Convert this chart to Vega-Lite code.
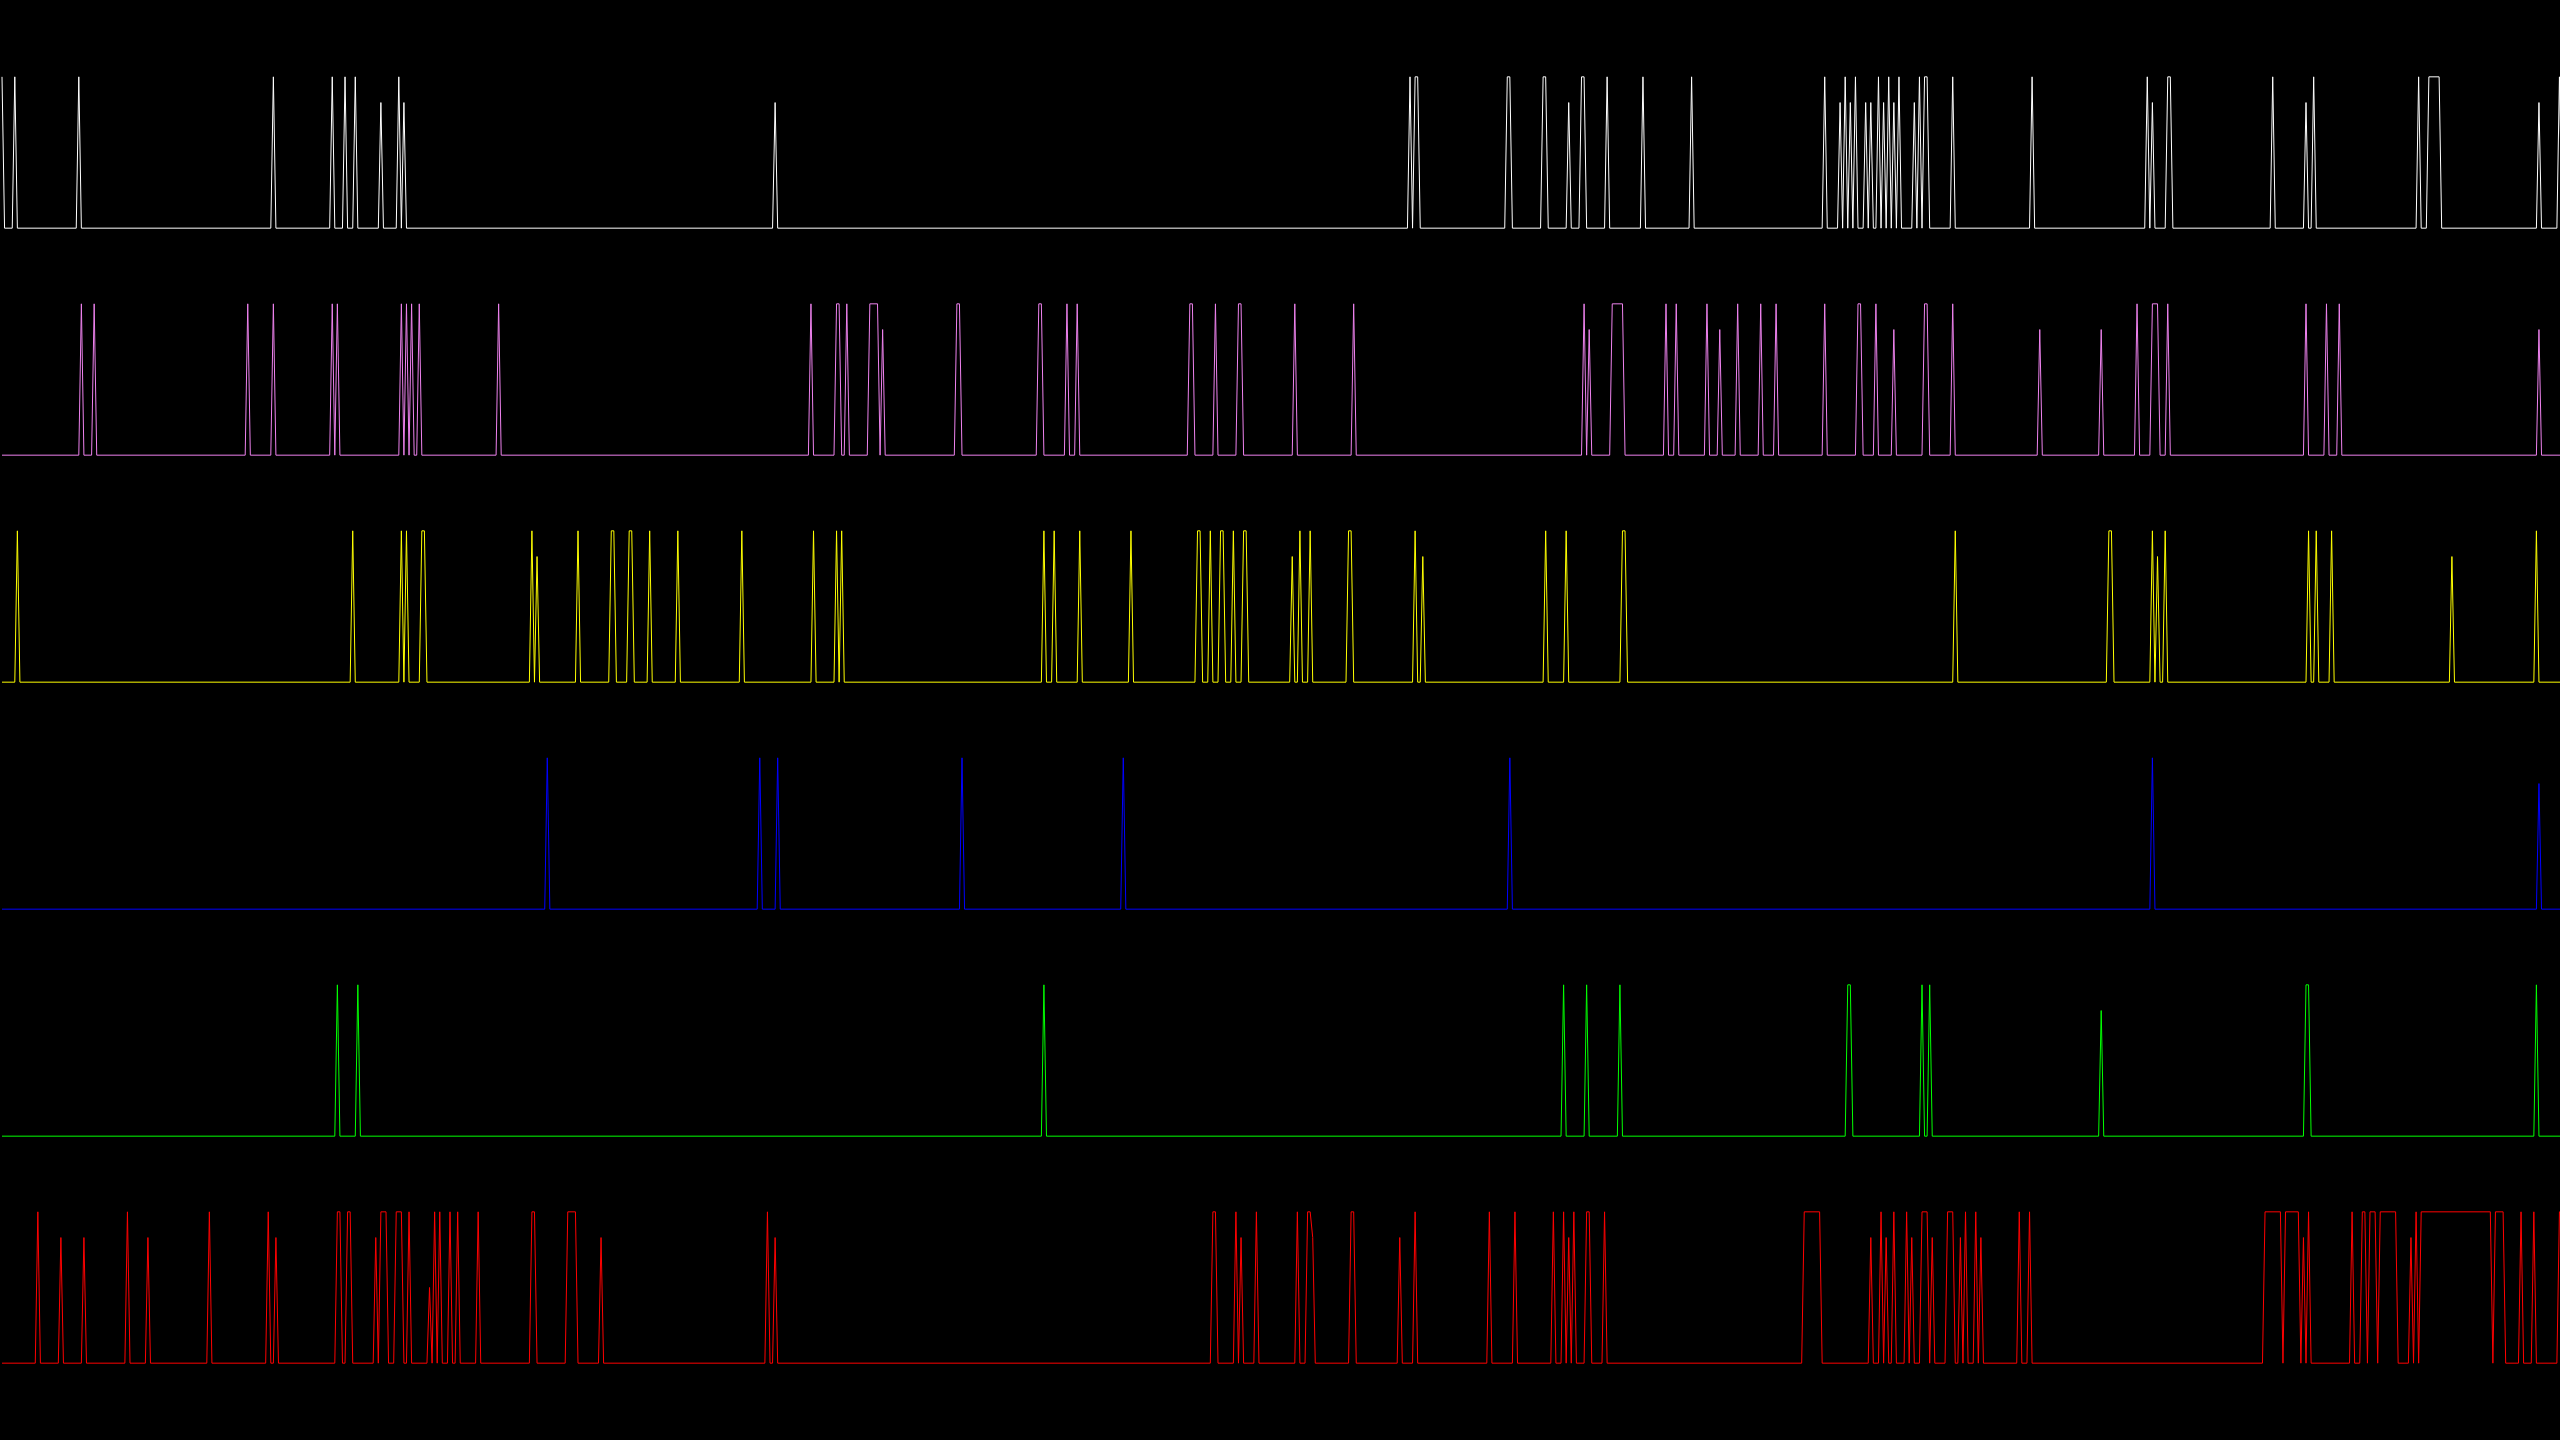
{
"$schema": "https://vega.github.io/schema/vega-lite/v6.json",
"background": "black",
"padding": {"top": 39, "left": 0, "right": 0, "bottom": 39},
"spacing": 0,
"data": {"values": [
{"c":"1","t":0,"v":1},{"c":"1","t":1,"v":0},{"c":"1","t":4,"v":0},{"c":"1","t":5,"v":1},{"c":"1","t":6,"v":0},{"c":"1","t":29,"v":0},{"c":"1","t":30,"v":1},{"c":"1","t":31,"v":0},{"c":"1","t":105,"v":0},{"c":"1","t":106,"v":1},{"c":"1","t":107,"v":0},{"c":"1","t":128,"v":0},{"c":"1","t":129,"v":1},{"c":"1","t":130,"v":0},{"c":"1","t":133,"v":0},{"c":"1","t":134,"v":1},{"c":"1","t":135,"v":0},{"c":"1","t":137,"v":0},{"c":"1","t":138,"v":1},{"c":"1","t":139,"v":0},{"c":"1","t":147,"v":0},{"c":"1","t":148,"v":0.83},{"c":"1","t":149,"v":0},{"c":"1","t":154,"v":0},{"c":"1","t":155,"v":1},{"c":"1","t":156,"v":0},{"c":"1","t":157,"v":0.83},{"c":"1","t":158,"v":0},{"c":"1","t":301,"v":0},{"c":"1","t":302,"v":0.83},{"c":"1","t":303,"v":0},{"c":"1","t":549,"v":0},{"c":"1","t":550,"v":1},{"c":"1","t":551,"v":0},{"c":"1","t":552,"v":1},{"c":"1","t":553,"v":1},{"c":"1","t":554,"v":0},{"c":"1","t":587,"v":0},{"c":"1","t":588,"v":1},{"c":"1","t":589,"v":1},{"c":"1","t":590,"v":0},{"c":"1","t":601,"v":0},{"c":"1","t":602,"v":1},{"c":"1","t":603,"v":1},{"c":"1","t":604,"v":0},{"c":"1","t":611,"v":0},{"c":"1","t":612,"v":0.83},{"c":"1","t":613,"v":0},{"c":"1","t":616,"v":0},{"c":"1","t":617,"v":1},{"c":"1","t":618,"v":1},{"c":"1","t":619,"v":0},{"c":"1","t":626,"v":0},{"c":"1","t":627,"v":1},{"c":"1","t":628,"v":0},{"c":"1","t":640,"v":0},{"c":"1","t":641,"v":1},{"c":"1","t":642,"v":0},{"c":"1","t":659,"v":0},{"c":"1","t":660,"v":1},{"c":"1","t":661,"v":0},{"c":"1","t":711,"v":0},{"c":"1","t":712,"v":1},{"c":"1","t":713,"v":0},{"c":"1","t":717,"v":0},{"c":"1","t":718,"v":0.83},{"c":"1","t":719,"v":0},{"c":"1","t":720,"v":1},{"c":"1","t":721,"v":0},{"c":"1","t":722,"v":0.83},{"c":"1","t":723,"v":0},{"c":"1","t":724,"v":1},{"c":"1","t":725,"v":0},{"c":"1","t":727,"v":0},{"c":"1","t":728,"v":0.83},{"c":"1","t":729,"v":0},{"c":"1","t":730,"v":0.83},{"c":"1","t":731,"v":0},{"c":"1","t":732,"v":0},{"c":"1","t":733,"v":1},{"c":"1","t":734,"v":0},{"c":"1","t":735,"v":0.83},{"c":"1","t":736,"v":0},{"c":"1","t":737,"v":1},{"c":"1","t":738,"v":0},{"c":"1","t":739,"v":0.83},{"c":"1","t":740,"v":0},{"c":"1","t":741,"v":1},{"c":"1","t":742,"v":0},{"c":"1","t":746,"v":0},{"c":"1","t":747,"v":0.83},{"c":"1","t":748,"v":0},{"c":"1","t":749,"v":1},{"c":"1","t":750,"v":0},{"c":"1","t":751,"v":1},{"c":"1","t":752,"v":1},{"c":"1","t":753,"v":0},{"c":"1","t":761,"v":0},{"c":"1","t":762,"v":1},{"c":"1","t":763,"v":0},{"c":"1","t":792,"v":0},{"c":"1","t":793,"v":1},{"c":"1","t":794,"v":0},{"c":"1","t":837,"v":0},{"c":"1","t":838,"v":1},{"c":"1","t":839,"v":0},{"c":"1","t":840,"v":0.83},{"c":"1","t":841,"v":0},{"c":"1","t":845,"v":0},{"c":"1","t":846,"v":1},{"c":"1","t":847,"v":1},{"c":"1","t":848,"v":0},{"c":"1","t":886,"v":0},{"c":"1","t":887,"v":1},{"c":"1","t":888,"v":0},{"c":"1","t":899,"v":0},{"c":"1","t":900,"v":0.83},{"c":"1","t":901,"v":0},{"c":"1","t":902,"v":0},{"c":"1","t":903,"v":1},{"c":"1","t":904,"v":0},{"c":"1","t":943,"v":0},{"c":"1","t":944,"v":1},{"c":"1","t":945,"v":0},{"c":"1","t":947,"v":0},{"c":"1","t":948,"v":1},{"c":"1","t":952,"v":1},{"c":"1","t":953,"v":0},{"c":"1","t":990,"v":0},{"c":"1","t":991,"v":0.83},{"c":"1","t":992,"v":0},{"c":"1","t":998,"v":0},{"c":"1","t":999,"v":1},{"c":"1","t":1000,"v":0},
{"c":"2","t":0,"v":0},{"c":"2","t":30,"v":0},{"c":"2","t":31,"v":1},{"c":"2","t":32,"v":0},{"c":"2","t":35,"v":0},{"c":"2","t":36,"v":1},{"c":"2","t":37,"v":0},{"c":"2","t":95,"v":0},{"c":"2","t":96,"v":1},{"c":"2","t":97,"v":0},{"c":"2","t":105,"v":0},{"c":"2","t":106,"v":1},{"c":"2","t":107,"v":0},{"c":"2","t":128,"v":0},{"c":"2","t":129,"v":1},{"c":"2","t":130,"v":0},{"c":"2","t":131,"v":1},{"c":"2","t":132,"v":0},{"c":"2","t":155,"v":0},{"c":"2","t":156,"v":1},{"c":"2","t":157,"v":0},{"c":"2","t":158,"v":1},{"c":"2","t":159,"v":0},{"c":"2","t":160,"v":1},{"c":"2","t":161,"v":0},{"c":"2","t":162,"v":0},{"c":"2","t":163,"v":1},{"c":"2","t":164,"v":0},{"c":"2","t":193,"v":0},{"c":"2","t":194,"v":1},{"c":"2","t":195,"v":0},{"c":"2","t":315,"v":0},{"c":"2","t":316,"v":1},{"c":"2","t":317,"v":0},{"c":"2","t":325,"v":0},{"c":"2","t":326,"v":1},{"c":"2","t":327,"v":1},{"c":"2","t":328,"v":0},{"c":"2","t":329,"v":0},{"c":"2","t":330,"v":1},{"c":"2","t":331,"v":0},{"c":"2","t":338,"v":0},{"c":"2","t":339,"v":1},{"c":"2","t":342,"v":1},{"c":"2","t":343,"v":0},{"c":"2","t":344,"v":0.83},{"c":"2","t":345,"v":0},{"c":"2","t":372,"v":0},{"c":"2","t":373,"v":1},{"c":"2","t":374,"v":1},{"c":"2","t":375,"v":0},{"c":"2","t":404,"v":0},{"c":"2","t":405,"v":1},{"c":"2","t":406,"v":1},{"c":"2","t":407,"v":0},{"c":"2","t":415,"v":0},{"c":"2","t":416,"v":1},{"c":"2","t":417,"v":0},{"c":"2","t":419,"v":0},{"c":"2","t":420,"v":1},{"c":"2","t":421,"v":0},{"c":"2","t":463,"v":0},{"c":"2","t":464,"v":1},{"c":"2","t":465,"v":1},{"c":"2","t":466,"v":0},{"c":"2","t":473,"v":0},{"c":"2","t":474,"v":1},{"c":"2","t":475,"v":0},{"c":"2","t":482,"v":0},{"c":"2","t":483,"v":1},{"c":"2","t":484,"v":1},{"c":"2","t":485,"v":0},{"c":"2","t":504,"v":0},{"c":"2","t":505,"v":1},{"c":"2","t":506,"v":0},{"c":"2","t":527,"v":0},{"c":"2","t":528,"v":1},{"c":"2","t":529,"v":0},{"c":"2","t":617,"v":0},{"c":"2","t":618,"v":1},{"c":"2","t":619,"v":0},{"c":"2","t":620,"v":0.83},{"c":"2","t":621,"v":0},{"c":"2","t":628,"v":0},{"c":"2","t":629,"v":1},{"c":"2","t":633,"v":1},{"c":"2","t":634,"v":0},{"c":"2","t":649,"v":0},{"c":"2","t":650,"v":1},{"c":"2","t":651,"v":0},{"c":"2","t":653,"v":0},{"c":"2","t":654,"v":1},{"c":"2","t":655,"v":0},{"c":"2","t":665,"v":0},{"c":"2","t":666,"v":1},{"c":"2","t":667,"v":0},{"c":"2","t":670,"v":0},{"c":"2","t":671,"v":0.83},{"c":"2","t":672,"v":0},{"c":"2","t":677,"v":0},{"c":"2","t":678,"v":1},{"c":"2","t":679,"v":0},{"c":"2","t":686,"v":0},{"c":"2","t":687,"v":1},{"c":"2","t":688,"v":0},{"c":"2","t":692,"v":0},{"c":"2","t":693,"v":1},{"c":"2","t":694,"v":0},{"c":"2","t":711,"v":0},{"c":"2","t":712,"v":1},{"c":"2","t":713,"v":0},{"c":"2","t":724,"v":0},{"c":"2","t":725,"v":1},{"c":"2","t":726,"v":1},{"c":"2","t":727,"v":0},{"c":"2","t":731,"v":0},{"c":"2","t":732,"v":1},{"c":"2","t":733,"v":0},{"c":"2","t":738,"v":0},{"c":"2","t":739,"v":0.83},{"c":"2","t":740,"v":0},{"c":"2","t":750,"v":0},{"c":"2","t":751,"v":1},{"c":"2","t":752,"v":1},{"c":"2","t":753,"v":0},{"c":"2","t":761,"v":0},{"c":"2","t":762,"v":1},{"c":"2","t":763,"v":0},{"c":"2","t":795,"v":0},{"c":"2","t":796,"v":0.83},{"c":"2","t":797,"v":0},{"c":"2","t":819,"v":0},{"c":"2","t":820,"v":0.83},{"c":"2","t":821,"v":0},{"c":"2","t":833,"v":0},{"c":"2","t":834,"v":1},{"c":"2","t":835,"v":0},{"c":"2","t":839,"v":0},{"c":"2","t":840,"v":1},{"c":"2","t":842,"v":1},{"c":"2","t":843,"v":0},{"c":"2","t":845,"v":0},{"c":"2","t":846,"v":1},{"c":"2","t":847,"v":0},{"c":"2","t":899,"v":0},{"c":"2","t":900,"v":1},{"c":"2","t":901,"v":0},{"c":"2","t":907,"v":0},{"c":"2","t":908,"v":1},{"c":"2","t":909,"v":0},{"c":"2","t":912,"v":0},{"c":"2","t":913,"v":1},{"c":"2","t":914,"v":0},{"c":"2","t":990,"v":0},{"c":"2","t":991,"v":0.83},{"c":"2","t":992,"v":0},{"c":"2","t":1000,"v":0},
{"c":"3","t":0,"v":0},{"c":"3","t":5,"v":0},{"c":"3","t":6,"v":1},{"c":"3","t":7,"v":0},{"c":"3","t":136,"v":0},{"c":"3","t":137,"v":1},{"c":"3","t":138,"v":0},{"c":"3","t":155,"v":0},{"c":"3","t":156,"v":1},{"c":"3","t":157,"v":0},{"c":"3","t":158,"v":1},{"c":"3","t":159,"v":0},{"c":"3","t":163,"v":0},{"c":"3","t":164,"v":1},{"c":"3","t":165,"v":1},{"c":"3","t":166,"v":0},{"c":"3","t":206,"v":0},{"c":"3","t":207,"v":1},{"c":"3","t":208,"v":0},{"c":"3","t":209,"v":0.83},{"c":"3","t":210,"v":0},{"c":"3","t":224,"v":0},{"c":"3","t":225,"v":1},{"c":"3","t":226,"v":0},{"c":"3","t":237,"v":0},{"c":"3","t":238,"v":1},{"c":"3","t":239,"v":1},{"c":"3","t":240,"v":0},{"c":"3","t":244,"v":0},{"c":"3","t":245,"v":1},{"c":"3","t":246,"v":1},{"c":"3","t":247,"v":0},{"c":"3","t":252,"v":0},{"c":"3","t":253,"v":1},{"c":"3","t":254,"v":0},{"c":"3","t":263,"v":0},{"c":"3","t":264,"v":1},{"c":"3","t":265,"v":0},{"c":"3","t":288,"v":0},{"c":"3","t":289,"v":1},{"c":"3","t":290,"v":0},{"c":"3","t":316,"v":0},{"c":"3","t":317,"v":1},{"c":"3","t":318,"v":0},{"c":"3","t":325,"v":0},{"c":"3","t":326,"v":1},{"c":"3","t":327,"v":0},{"c":"3","t":328,"v":1},{"c":"3","t":329,"v":0},{"c":"3","t":406,"v":0},{"c":"3","t":407,"v":1},{"c":"3","t":408,"v":0},{"c":"3","t":410,"v":0},{"c":"3","t":411,"v":1},{"c":"3","t":412,"v":0},{"c":"3","t":420,"v":0},{"c":"3","t":421,"v":1},{"c":"3","t":422,"v":0},{"c":"3","t":440,"v":0},{"c":"3","t":441,"v":1},{"c":"3","t":442,"v":0},{"c":"3","t":466,"v":0},{"c":"3","t":467,"v":1},{"c":"3","t":468,"v":1},{"c":"3","t":469,"v":0},{"c":"3","t":471,"v":0},{"c":"3","t":472,"v":1},{"c":"3","t":473,"v":0},{"c":"3","t":475,"v":0},{"c":"3","t":476,"v":1},{"c":"3","t":477,"v":1},{"c":"3","t":478,"v":0},{"c":"3","t":480,"v":0},{"c":"3","t":481,"v":1},{"c":"3","t":482,"v":0},{"c":"3","t":484,"v":0},{"c":"3","t":485,"v":1},{"c":"3","t":486,"v":1},{"c":"3","t":487,"v":0},{"c":"3","t":503,"v":0},{"c":"3","t":504,"v":0.83},{"c":"3","t":505,"v":0},{"c":"3","t":506,"v":0},{"c":"3","t":507,"v":1},{"c":"3","t":508,"v":0},{"c":"3","t":510,"v":0},{"c":"3","t":511,"v":1},{"c":"3","t":512,"v":0},{"c":"3","t":525,"v":0},{"c":"3","t":526,"v":1},{"c":"3","t":527,"v":1},{"c":"3","t":528,"v":0},{"c":"3","t":551,"v":0},{"c":"3","t":552,"v":1},{"c":"3","t":553,"v":0},{"c":"3","t":554,"v":0},{"c":"3","t":555,"v":0.83},{"c":"3","t":556,"v":0},{"c":"3","t":602,"v":0},{"c":"3","t":603,"v":1},{"c":"3","t":604,"v":0},{"c":"3","t":610,"v":0},{"c":"3","t":611,"v":1},{"c":"3","t":612,"v":0},{"c":"3","t":632,"v":0},{"c":"3","t":633,"v":1},{"c":"3","t":634,"v":1},{"c":"3","t":635,"v":0},{"c":"3","t":762,"v":0},{"c":"3","t":763,"v":1},{"c":"3","t":764,"v":0},{"c":"3","t":822,"v":0},{"c":"3","t":823,"v":1},{"c":"3","t":824,"v":1},{"c":"3","t":825,"v":0},{"c":"3","t":839,"v":0},{"c":"3","t":840,"v":1},{"c":"3","t":841,"v":0},{"c":"3","t":842,"v":0.83},{"c":"3","t":843,"v":0},{"c":"3","t":844,"v":0},{"c":"3","t":845,"v":1},{"c":"3","t":846,"v":0},{"c":"3","t":900,"v":0},{"c":"3","t":901,"v":1},{"c":"3","t":902,"v":0},{"c":"3","t":903,"v":0},{"c":"3","t":904,"v":1},{"c":"3","t":905,"v":0},{"c":"3","t":909,"v":0},{"c":"3","t":910,"v":1},{"c":"3","t":911,"v":0},{"c":"3","t":956,"v":0},{"c":"3","t":957,"v":0.83},{"c":"3","t":958,"v":0},{"c":"3","t":989,"v":0},{"c":"3","t":990,"v":1},{"c":"3","t":991,"v":0},{"c":"3","t":1000,"v":0},
{"c":"4","t":0,"v":0},{"c":"4","t":212,"v":0},{"c":"4","t":213,"v":1},{"c":"4","t":214,"v":0},{"c":"4","t":295,"v":0},{"c":"4","t":296,"v":1},{"c":"4","t":297,"v":0},{"c":"4","t":302,"v":0},{"c":"4","t":303,"v":1},{"c":"4","t":304,"v":0},{"c":"4","t":374,"v":0},{"c":"4","t":375,"v":1},{"c":"4","t":376,"v":0},{"c":"4","t":437,"v":0},{"c":"4","t":438,"v":1},{"c":"4","t":439,"v":0},{"c":"4","t":588,"v":0},{"c":"4","t":589,"v":1},{"c":"4","t":590,"v":0},{"c":"4","t":839,"v":0},{"c":"4","t":840,"v":1},{"c":"4","t":841,"v":0},{"c":"4","t":990,"v":0},{"c":"4","t":991,"v":0.83},{"c":"4","t":992,"v":0},{"c":"4","t":1000,"v":0},
{"c":"5","t":0,"v":0},{"c":"5","t":130,"v":0},{"c":"5","t":131,"v":1},{"c":"5","t":132,"v":0},{"c":"5","t":138,"v":0},{"c":"5","t":139,"v":1},{"c":"5","t":140,"v":0},{"c":"5","t":406,"v":0},{"c":"5","t":407,"v":1},{"c":"5","t":408,"v":0},{"c":"5","t":609,"v":0},{"c":"5","t":610,"v":1},{"c":"5","t":611,"v":0},{"c":"5","t":618,"v":0},{"c":"5","t":619,"v":1},{"c":"5","t":620,"v":0},{"c":"5","t":631,"v":0},{"c":"5","t":632,"v":1},{"c":"5","t":633,"v":0},{"c":"5","t":720,"v":0},{"c":"5","t":721,"v":1},{"c":"5","t":722,"v":1},{"c":"5","t":723,"v":0},{"c":"5","t":749,"v":0},{"c":"5","t":750,"v":1},{"c":"5","t":751,"v":0},{"c":"5","t":752,"v":0},{"c":"5","t":753,"v":1},{"c":"5","t":754,"v":0},{"c":"5","t":819,"v":0},{"c":"5","t":820,"v":0.83},{"c":"5","t":821,"v":0},{"c":"5","t":899,"v":0},{"c":"5","t":900,"v":1},{"c":"5","t":901,"v":1},{"c":"5","t":902,"v":0},{"c":"5","t":989,"v":0},{"c":"5","t":990,"v":1},{"c":"5","t":991,"v":0},{"c":"5","t":1000,"v":0},
{"c":"6","t":0,"v":0},{"c":"6","t":13,"v":0},{"c":"6","t":14,"v":1},{"c":"6","t":15,"v":0},{"c":"6","t":22,"v":0},{"c":"6","t":23,"v":0.83},{"c":"6","t":24,"v":0},{"c":"6","t":31,"v":0},{"c":"6","t":32,"v":0.83},{"c":"6","t":33,"v":0},{"c":"6","t":48,"v":0},{"c":"6","t":49,"v":1},{"c":"6","t":50,"v":0},{"c":"6","t":56,"v":0},{"c":"6","t":57,"v":0.83},{"c":"6","t":58,"v":0},{"c":"6","t":80,"v":0},{"c":"6","t":81,"v":1},{"c":"6","t":82,"v":0},{"c":"6","t":103,"v":0},{"c":"6","t":104,"v":1},{"c":"6","t":105,"v":0},{"c":"6","t":106,"v":0},{"c":"6","t":107,"v":0.83},{"c":"6","t":108,"v":0},{"c":"6","t":130,"v":0},{"c":"6","t":131,"v":1},{"c":"6","t":132,"v":1},{"c":"6","t":133,"v":0},{"c":"6","t":134,"v":0},{"c":"6","t":135,"v":1},{"c":"6","t":136,"v":1},{"c":"6","t":137,"v":0},{"c":"6","t":145,"v":0},{"c":"6","t":146,"v":0.83},{"c":"6","t":147,"v":0},{"c":"6","t":148,"v":1},{"c":"6","t":150,"v":1},{"c":"6","t":151,"v":0},{"c":"6","t":153,"v":0},{"c":"6","t":154,"v":1},{"c":"6","t":156,"v":1},{"c":"6","t":157,"v":0},{"c":"6","t":158,"v":0},{"c":"6","t":159,"v":1},{"c":"6","t":160,"v":0},{"c":"6","t":166,"v":0},{"c":"6","t":167,"v":0.5},{"c":"6","t":168,"v":0},{"c":"6","t":169,"v":1},{"c":"6","t":170,"v":0},{"c":"6","t":171,"v":1},{"c":"6","t":172,"v":0},{"c":"6","t":174,"v":0},{"c":"6","t":175,"v":1},{"c":"6","t":176,"v":0},{"c":"6","t":177,"v":0},{"c":"6","t":178,"v":1},{"c":"6","t":179,"v":0},{"c":"6","t":185,"v":0},{"c":"6","t":186,"v":1},{"c":"6","t":187,"v":0},{"c":"6","t":206,"v":0},{"c":"6","t":207,"v":1},{"c":"6","t":208,"v":1},{"c":"6","t":209,"v":0},{"c":"6","t":220,"v":0},{"c":"6","t":221,"v":1},{"c":"6","t":224,"v":1},{"c":"6","t":225,"v":0},{"c":"6","t":233,"v":0},{"c":"6","t":234,"v":0.83},{"c":"6","t":235,"v":0},{"c":"6","t":298,"v":0},{"c":"6","t":299,"v":1},{"c":"6","t":300,"v":0},{"c":"6","t":301,"v":0},{"c":"6","t":302,"v":0.83},{"c":"6","t":303,"v":0},{"c":"6","t":472,"v":0},{"c":"6","t":473,"v":1},{"c":"6","t":474,"v":1},{"c":"6","t":475,"v":0},{"c":"6","t":481,"v":0},{"c":"6","t":482,"v":1},{"c":"6","t":483,"v":0},{"c":"6","t":484,"v":0.83},{"c":"6","t":485,"v":0},{"c":"6","t":489,"v":0},{"c":"6","t":490,"v":1},{"c":"6","t":491,"v":0},{"c":"6","t":505,"v":0},{"c":"6","t":506,"v":1},{"c":"6","t":507,"v":0},{"c":"6","t":509,"v":0},{"c":"6","t":510,"v":1},{"c":"6","t":511,"v":1},{"c":"6","t":512,"v":0.83},{"c":"6","t":513,"v":0},{"c":"6","t":526,"v":0},{"c":"6","t":527,"v":1},{"c":"6","t":528,"v":1},{"c":"6","t":529,"v":0},{"c":"6","t":545,"v":0},{"c":"6","t":546,"v":0.83},{"c":"6","t":547,"v":0},{"c":"6","t":551,"v":0},{"c":"6","t":552,"v":1},{"c":"6","t":553,"v":0},{"c":"6","t":580,"v":0},{"c":"6","t":581,"v":1},{"c":"6","t":582,"v":0},{"c":"6","t":590,"v":0},{"c":"6","t":591,"v":1},{"c":"6","t":592,"v":0},{"c":"6","t":605,"v":0},{"c":"6","t":606,"v":1},{"c":"6","t":607,"v":0},{"c":"6","t":609,"v":0},{"c":"6","t":610,"v":1},{"c":"6","t":611,"v":0},{"c":"6","t":612,"v":0.83},{"c":"6","t":613,"v":0},{"c":"6","t":614,"v":1},{"c":"6","t":615,"v":0},{"c":"6","t":618,"v":0},{"c":"6","t":619,"v":1},{"c":"6","t":620,"v":1},{"c":"6","t":621,"v":0},{"c":"6","t":625,"v":0},{"c":"6","t":626,"v":1},{"c":"6","t":627,"v":0},{"c":"6","t":703,"v":0},{"c":"6","t":704,"v":1},{"c":"6","t":710,"v":1},{"c":"6","t":711,"v":0},{"c":"6","t":729,"v":0},{"c":"6","t":730,"v":0.83},{"c":"6","t":731,"v":0},{"c":"6","t":733,"v":0},{"c":"6","t":734,"v":1},{"c":"6","t":735,"v":0},{"c":"6","t":736,"v":0.83},{"c":"6","t":737,"v":0},{"c":"6","t":738,"v":0},{"c":"6","t":739,"v":1},{"c":"6","t":740,"v":0},{"c":"6","t":743,"v":0},{"c":"6","t":744,"v":1},{"c":"6","t":745,"v":0},{"c":"6","t":746,"v":0.83},{"c":"6","t":747,"v":0},{"c":"6","t":749,"v":0},{"c":"6","t":750,"v":1},{"c":"6","t":752,"v":1},{"c":"6","t":753,"v":0},{"c":"6","t":754,"v":0.83},{"c":"6","t":755,"v":0},{"c":"6","t":759,"v":0},{"c":"6","t":760,"v":1},{"c":"6","t":762,"v":1},{"c":"6","t":763,"v":0},{"c":"6","t":764,"v":0},{"c":"6","t":765,"v":0.83},{"c":"6","t":766,"v":0},{"c":"6","t":767,"v":1},{"c":"6","t":768,"v":0},{"c":"6","t":770,"v":0},{"c":"6","t":771,"v":1},{"c":"6","t":772,"v":0},{"c":"6","t":773,"v":0.83},{"c":"6","t":774,"v":0},{"c":"6","t":787,"v":0},{"c":"6","t":788,"v":1},{"c":"6","t":789,"v":0},{"c":"6","t":791,"v":0},{"c":"6","t":792,"v":1},{"c":"6","t":793,"v":0},{"c":"6","t":883,"v":0},{"c":"6","t":884,"v":1},{"c":"6","t":890,"v":1},{"c":"6","t":891,"v":0},{"c":"6","t":892,"v":1},{"c":"6","t":897,"v":1},{"c":"6","t":898,"v":0},{"c":"6","t":899,"v":0.83},{"c":"6","t":900,"v":0},{"c":"6","t":901,"v":1},{"c":"6","t":902,"v":0},{"c":"6","t":917,"v":0},{"c":"6","t":918,"v":1},{"c":"6","t":919,"v":0},{"c":"6","t":921,"v":0},{"c":"6","t":922,"v":1},{"c":"6","t":923,"v":1},{"c":"6","t":924,"v":0},{"c":"6","t":925,"v":1},{"c":"6","t":927,"v":1},{"c":"6","t":928,"v":0},{"c":"6","t":929,"v":1},{"c":"6","t":935,"v":1},{"c":"6","t":936,"v":0},{"c":"6","t":940,"v":0},{"c":"6","t":941,"v":0.83},{"c":"6","t":942,"v":0},{"c":"6","t":943,"v":1},{"c":"6","t":944,"v":0},{"c":"6","t":945,"v":1},{"c":"6","t":972,"v":1},{"c":"6","t":973,"v":0},{"c":"6","t":974,"v":1},{"c":"6","t":977,"v":1},{"c":"6","t":978,"v":0},{"c":"6","t":983,"v":0},{"c":"6","t":984,"v":1},{"c":"6","t":985,"v":0},{"c":"6","t":988,"v":0},{"c":"6","t":989,"v":1},{"c":"6","t":990,"v":0},{"c":"6","t":998,"v":0},{"c":"6","t":999,"v":1},{"c":"6","t":1000,"v":1}
]},
"facet": {"row": {"field": "c", "type": "nominal", "header": null}},
"spec": {
  "width": 2560,
  "height": 227,
  "mark": {"type": "line", "strokeWidth": 1, "interpolate": "linear"},
  "encoding": {
    "x": {"field": "t", "type": "quantitative", "scale": {"domain": [0, 1000], "nice": false, "zero": false}, "axis": null},
    "y": {"field": "v", "type": "quantitative", "scale": {"domain": [-0.25, 1.25], "nice": false, "zero": false}, "axis": null},
    "color": {"field": "c", "type": "nominal", "scale": {"domain": ["1","2","3","4","5","6"], "range": ["#ffffff","#ee82ee","#ffff00","#0000ff","#00ff00","#ff0000"]}, "legend": null}
  }
},
"config": {"view": {"stroke": null}}
}
